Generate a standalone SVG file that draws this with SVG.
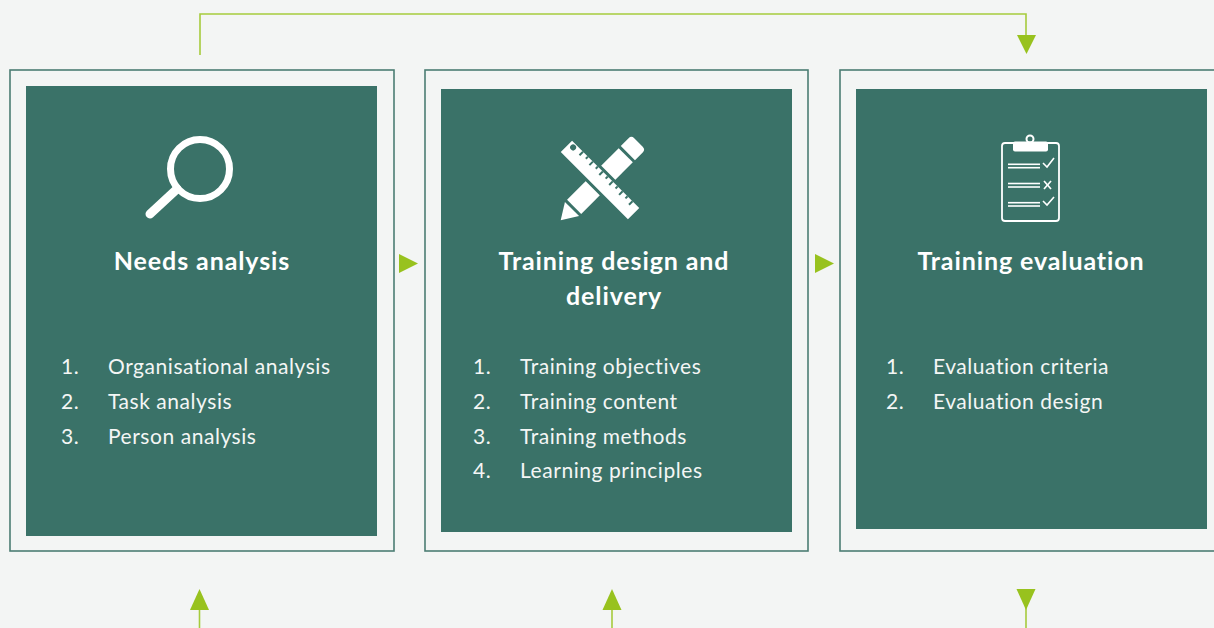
<svg xmlns="http://www.w3.org/2000/svg" width="1214" height="628" viewBox="0 0 1214 628">
<defs>
<style>
.frame{fill:none;stroke:#4b7d73;stroke-width:1.6}
.panel{fill:#3a7268}
.title{font-family:Lato,"Open Sans",sans-serif;font-weight:700;font-size:25px;letter-spacing:0.9px;fill:#ffffff;text-anchor:middle}
.item{font-family:Lato,"Open Sans",sans-serif;font-weight:400;font-size:21px;letter-spacing:0.55px;fill:#f4f6f5}
.wire{fill:none;stroke:#a6cb3c;stroke-width:1.6}
.head{fill:#98c21e}
.ico{fill:#ffffff}
</style>
</defs>
<rect x="0" y="0" width="1214" height="628" fill="#f3f5f4"/>

<g id="connectors">
<polyline class="wire" points="200,55 200,14 1026,14 1026,37"/>
<polygon class="head" points="1017,35 1036,35 1026.5,54"/>
<polygon class="head" points="399,254 418,263.5 399,273"/>
<polygon class="head" points="815,254 834,263.5 815,273"/>
<line class="wire" x1="199.5" y1="609" x2="199.5" y2="628"/>
<polygon class="head" points="199.5,589 209,610 190,610"/>
<line class="wire" x1="612" y1="609" x2="612" y2="628"/>
<polygon class="head" points="612,589 621.5,610 602.5,610"/>
<line class="wire" x1="1026" y1="605" x2="1026" y2="628"/>
<polygon class="head" points="1016.5,589 1035.5,589 1026,610"/>
</g>

<g id="needs-analysis">
<rect class="frame" x="10" y="70" width="384" height="481"/>
<rect class="panel" x="26" y="86" width="351" height="450"/>
<circle cx="200" cy="169" r="29.5" fill="none" stroke="#ffffff" stroke-width="7"/>
<line x1="177" y1="189" x2="150" y2="214" stroke="#ffffff" stroke-width="9" stroke-linecap="round"/>
<text class="title" x="202" y="270">Needs analysis</text>
<text class="item" x="61" y="374">1.</text><text class="item" x="108" y="374">Organisational analysis</text>
<text class="item" x="61" y="409">2.</text><text class="item" x="108" y="409">Task analysis</text>
<text class="item" x="61" y="444">3.</text><text class="item" x="108" y="444">Person analysis</text>
</g>

<g id="training-design">
<rect class="frame" x="425" y="70" width="383" height="481"/>
<rect class="panel" x="441" y="89" width="351" height="443"/>
<g transform="rotate(-45 601 180)">
<polygon class="ico" points="544,180 560,170 560,190"/>
<rect class="ico" x="563" y="170" width="73" height="20"/>
<path class="ico" d="M639,170 H650 A4,4 0 0 1 654,174 V186 A4,4 0 0 1 650,190 H639 Z"/>
</g>
<g transform="rotate(45 600 180)">
<rect class="ico" x="551" y="170.5" width="98" height="19" stroke="#3a7268" stroke-width="3"/>
<circle cx="558" cy="176" r="3" fill="#3a7268"/>
<g fill="#3a7268">
<rect x="567" y="172" width="2" height="5"/>
<rect x="574" y="172" width="2" height="3"/>
<rect x="581" y="172" width="2" height="5"/>
<rect x="588" y="172" width="2" height="3"/>
<rect x="595" y="172" width="2" height="5"/>
<rect x="602" y="172" width="2" height="3"/>
<rect x="609" y="172" width="2" height="5"/>
<rect x="616" y="172" width="2" height="3"/>
<rect x="623" y="172" width="2" height="5"/>
<rect x="630" y="172" width="2" height="3"/>
<rect x="637" y="172" width="2" height="5"/>
</g>
</g>
<text class="title" x="614" y="270">Training design and</text>
<text class="title" x="614" y="305">delivery</text>
<text class="item" x="473" y="374">1.</text><text class="item" x="520" y="374">Training objectives</text>
<text class="item" x="473" y="409">2.</text><text class="item" x="520" y="409">Training content</text>
<text class="item" x="473" y="444">3.</text><text class="item" x="520" y="444">Training methods</text>
<text class="item" x="473" y="478">4.</text><text class="item" x="520" y="478">Learning principles</text>
</g>

<g id="training-evaluation">
<rect class="frame" x="840" y="70" width="390" height="481"/>
<rect class="panel" x="856" y="89" width="351" height="440"/>
<rect x="1002" y="143" width="57" height="78" rx="3" fill="none" stroke="#ffffff" stroke-width="1.8"/>
<circle cx="1030" cy="139" r="3.5" fill="none" stroke="#ffffff" stroke-width="2"/>
<rect class="ico" x="1013" y="141.5" width="35" height="10" rx="2"/>
<g stroke="#ffffff" stroke-width="1.6" fill="none">
<line x1="1008" y1="164.3" x2="1040" y2="164.3"/><line x1="1008" y1="167.7" x2="1040" y2="167.7"/>
<line x1="1008" y1="183.5" x2="1040" y2="183.5"/><line x1="1008" y1="187" x2="1040" y2="187"/>
<line x1="1008" y1="202.7" x2="1040" y2="202.7"/><line x1="1008" y1="206" x2="1040" y2="206"/>
<polyline points="1043,163 1047,167 1054,158"/>
<line x1="1044" y1="181" x2="1051" y2="189"/><line x1="1051" y1="181" x2="1044" y2="189"/>
<polyline points="1043,201 1047,205 1054,197"/>
</g>
<text class="title" x="1031" y="270">Training evaluation</text>
<text class="item" x="886" y="374">1.</text><text class="item" x="933" y="374">Evaluation criteria</text>
<text class="item" x="886" y="409">2.</text><text class="item" x="933" y="409">Evaluation design</text>
</g>
</svg>
